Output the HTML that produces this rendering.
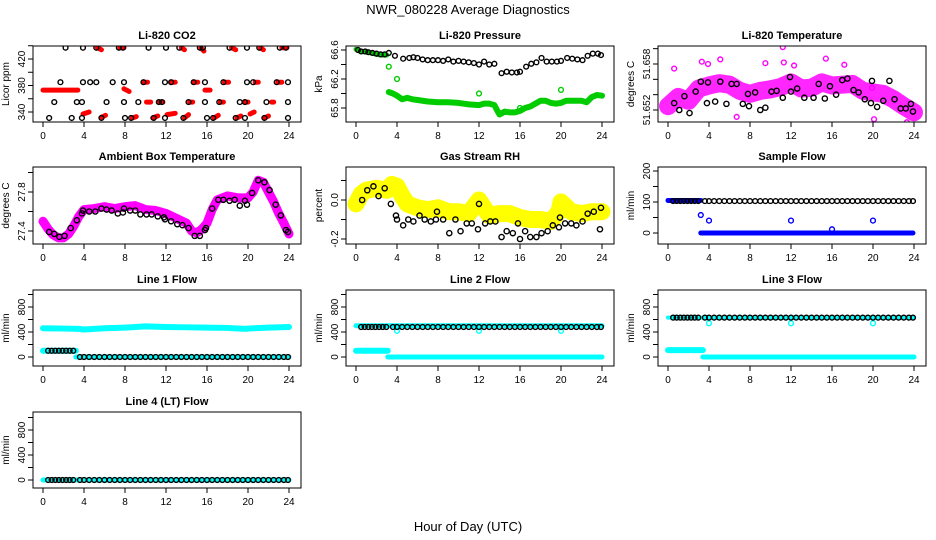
<!DOCTYPE html>
<html><head><meta charset="utf-8"><style>
body{margin:0;background:#fff}
svg{display:block;font-family:"Liberation Sans",Arial,sans-serif}
</style></head><body>
<svg id="c" width="936" height="540" viewBox="0 0 936 540">
<text x="468" y="14" text-anchor="middle" font-size="13">NWR_080228  Average Diagnostics</text>
<text x="468" y="531" text-anchor="middle" font-size="13">Hour of Day (UTC)</text>
</svg>
<script>
// ---------- data ----------
const xTicks=[0,4,8,12,16,20,24];
// CO2
const co2BlackH=[2.2,3.9,5.2,7.4,7.8,10.3,12,13.3,15.3,15.6,18.2,19.9,21.1,23.1,23.7, 1.7,3.9,4.6,5.2,6.8,7.9,9.8,11.9,12.5,14.7,15.8,17.6,19.9,20.5,22.8,23.9, 1.1,3.3,3.8,6.2,7.9,9.3,11.3,11.6,14.2,15.8,17.2,19.2,19.7,21.8,23.9, 0.6,2.8,3.8,5.7,8,8.6,10.8,11.9,13.7,16,16.6,18.8,19.7,21.6,23.9];
const co2BlackV=[437,437,437,437,437,437,437,437,437,437,437,437,437,437,437, 385,385,385,385,385,385,385,385,385,385,385,385,385,385,385,385, 355,355,355,355,355,355,355,355,355,355,355,355,355,355,355, 331,331,331,331,331,331,331,331,331,331,331,331,331,331,331];
const co2RedStart=[0,3.9,5.3,5.7,7.5,7.9,8.7,9.8,10.1,10.7,11.3,12.1,12.5,13.5,13.8,14.3,14.7,15.4,15.8,16.7,17.3,17.7,18.4,18.9,19.7,20.2,20.7,21.2,21.6,22.3,22.9,23.3];
const co2RedEnd=[3.4,4.5,5.7,6.1,7.9,8.4,9.1,10.2,10.5,11.2,11.7,12.9,12.9,13.8,14.2,14.6,15.1,15.7,16.3,17.1,17.6,18.1,18.8,19.3,20,20.6,21.0,21.5,22.0,22.5,23.3,23.8];
const co2RedV1=[373,337,437,332,437,375,331,385,355,331,355,336,385,437,331,355,385,437,373,331,355,385,437,331,355,337,385,437,331,355,385,437];
const co2RedV2=[373,340,434,335,437,371,333,385,355,334,355,338,385,434,336,355,385,432,373,335,355,385,434,334,355,340,385,434,334,355,385,437];
// Pressure
const presBlackH=[0.2,0.5,0.9,1.2,1.6,2,2.4,2.8,3.2,3.8,4.6,5.2,5.6,6,6.5,7,7.5,8,8.5,9,9.5,10,10.5,11,11.5,12,12.5,13,13.5,14.2,14.7,15.2,15.7,16,16.6,17.1,17.6,18.1,18.6,19.1,19.6,20,20.6,21.1,21.6,22.1,22.6,23.1,23.6,23.9];
const presBlackV=[66.6,66.58,66.58,66.57,66.56,66.55,66.54,66.54,66.56,66.52,66.48,66.49,66.5,66.49,66.47,66.46,66.46,66.46,66.45,66.47,66.44,66.45,66.44,66.43,66.42,66.4,66.44,66.4,66.41,66.28,66.3,66.29,66.29,66.3,66.37,66.41,66.43,66.49,66.44,66.44,66.44,66.45,66.49,66.48,66.47,66.46,66.52,66.55,66.55,66.53];
const presGreenH=[0,0.5,1,1.5,2,2.5,3,3.2,3.6,4,4.5,5,5.5,6,7,8,9,10,11,12,12.5,13,13.5,13.8,14,14.5,15,15.5,16,16.5,17,17.5,18,18.5,19,19.5,20,20.5,21,21.5,22,22.5,23,23.5,24];
const presGreenV=[66.61,66.58,66.57,66.56,66.54,66.53,66.53,66.02,66.0,65.97,65.92,65.94,65.92,65.91,65.89,65.88,65.88,65.87,65.85,65.84,65.86,65.86,65.84,65.76,65.71,65.75,65.74,65.74,65.76,65.8,65.82,65.86,65.9,65.9,65.87,65.86,65.87,65.9,65.9,65.9,65.9,65.88,65.95,65.98,65.97];
const presOutH=[3.2,4,12,16,20];
const presOutV=[66.37,66.2,66.0,65.8,66.05];
// Li-820 temperature
const tempCloudH=[0,1,2,3,4,5,6,7,8,9,10,11,12,13,14,15,16,17,18,19,20,21,22,23,24];
const tempCloudMid=[51.6525,51.6537,51.6532,51.6548,51.6552,51.6555,51.6553,51.6545,51.6541,51.6545,51.6547,51.655,51.6556,51.6548,51.6549,51.6556,51.6552,51.6553,51.6554,51.6545,51.6543,51.6541,51.6534,51.6525,51.6517];
const tempOutH=[0.6,3.3,3.9,5.1,9.5,11.2,11.3,12.3,15.4,17.2,19.9,2.1,6.7,23.3,20.1];
const tempOutV=[51.6574,51.6583,51.658,51.6586,51.6581,51.6602,51.6582,51.6578,51.6587,51.6579,51.6549,51.6501,51.6511,51.6504,51.6508];
const tempBlackH=[0.6,1.1,1.6,2.1,2.7,3.2,3.8,3.9,4.6,5.1,5.7,6.2,6.7,7.3,7.8,7.9,8.5,9.0,9.5,10.1,10.6,11.2,11.9,12.0,12.6,13.3,14.2,14.7,15.3,15.8,16.4,17.0,17.5,18.1,18.6,19.2,19.8,19.9,20.4,21.0,21.6,22.1,22.7,23.2,23.7,23.9];
const tempBlackV=[51.6529,51.652,51.6538,51.6516,51.6544,51.6557,51.6529,51.6556,51.6531,51.6557,51.6528,51.6554,51.6554,51.6528,51.6541,51.6525,51.6543,51.652,51.6523,51.6544,51.6545,51.6536,51.6563,51.6544,51.6548,51.6536,51.6536,51.6554,51.6535,51.6551,51.654,51.6559,51.6561,51.6546,51.6543,51.6534,51.6529,51.6558,51.6524,51.6532,51.6558,51.6534,51.6522,51.6522,51.6528,51.6518];
// Ambient box temperature
const ambH=[0,0.5,1,1.5,2,2.5,3,3.5,4,5,6,7,8,9,10,11,12,13,14,14.5,15,15.5,16,16.5,17,18,19,20,20.5,21,21.5,22,22.5,23,23.5,24];
const ambV=[27.5,27.42,27.36,27.33,27.33,27.37,27.45,27.55,27.62,27.63,27.65,27.63,27.65,27.66,27.62,27.61,27.58,27.53,27.48,27.4,27.38,27.42,27.48,27.62,27.72,27.76,27.74,27.74,27.8,27.92,27.9,27.8,27.7,27.58,27.48,27.37];
const ambBlackH=[0.6,1.1,1.6,2.1,2.7,3.3,3.8,3.9,4.5,5.1,5.7,6.2,6.7,7.3,7.8,7.9,8.5,9.0,9.5,10.1,10.6,11.2,11.8,11.9,12.5,13.1,13.6,14.2,14.8,15.3,15.8,15.9,16.5,17.1,17.6,18.2,18.7,19.2,19.7,19.9,20.4,21.0,21.6,22.1,22.7,23.2,23.7,23.9];
const ambBlackV=[27.39,27.37,27.34,27.35,27.43,27.51,27.58,27.61,27.6,27.6,27.63,27.62,27.61,27.58,27.59,27.63,27.61,27.61,27.57,27.57,27.57,27.55,27.54,27.52,27.5,27.47,27.46,27.43,27.35,27.35,27.41,27.43,27.63,27.72,27.72,27.71,27.72,27.66,27.71,27.67,27.79,27.92,27.9,27.82,27.67,27.56,27.41,27.39];
// Gas stream RH
const rhH=[0,0.5,1,2,3,3.5,4,4.5,5,6,7,8,9,10,11,12,13,14,15,16,17,18,19,19.8,20,21,22,23,24];
const rhMid=[-0.02,0.03,0.05,0.06,0.05,0.08,0.07,0.02,-0.02,-0.04,-0.05,-0.04,-0.06,-0.06,-0.07,0.0,-0.08,-0.07,-0.07,-0.09,-0.1,-0.1,-0.11,-0.06,-0.01,-0.06,-0.07,-0.06,-0.06];
const rhBlackH=[0.6,1.1,1.7,2.2,2.8,3.4,3.9,4.0,4.6,5.1,5.6,6.2,6.7,7.3,7.8,7.9,8.5,9.1,9.7,10.2,10.8,11.3,11.9,12.0,12.6,13.1,13.6,14.2,14.7,15.3,15.8,16.0,16.5,17.0,17.6,18.1,18.7,19.2,19.8,19.9,20.4,21.0,21.5,22.1,22.6,23.2,23.8,23.9];
const rhBlackV=[0.0,0.05,0.07,0.02,0.06,-0.02,-0.08,-0.1,-0.13,-0.1,-0.11,-0.08,-0.1,-0.11,-0.1,-0.06,-0.1,-0.17,-0.1,-0.16,-0.12,-0.12,-0.15,-0.02,-0.12,-0.11,-0.11,-0.19,-0.16,-0.17,-0.12,-0.2,-0.16,-0.19,-0.19,-0.17,-0.16,-0.13,-0.14,-0.09,-0.12,-0.12,-0.13,-0.11,-0.07,-0.06,-0.15,-0.04];
// Sample flow
const sfBlackV=103;
const sfBlueHiEnd=3.2, sfBlueHi=105, sfBlueLo=0;
const sfOutH=[3.2,4,12,16,20];
const sfOutV=[58,40,40,12,40];
// Line flows
const l1CyanH=[0,2,3.5,4,6,8,10,12,14,16,18,19.8,20,22,24];
const l1CyanV=[460,455,450,440,460,470,490,480,475,470,465,450,455,470,480];
const l1LowV=100, l1LowEnd=3.2;
const l2CyanV=500, l2LowV=100, l2LowEnd=3.1;
const l3CyanV=630, l3LowV=110, l3LowEnd=3.4;
const lineOutH=[4,12,20];
const l2OutV=[420,420,420];
const l3OutV=[540,540,540];
const circH=[0.5,0.85,1.2,1.55,1.9,2.25,2.6,2.95,3.6,4.0,4.5,5.0,5.5,6.0,6.5,7.0,7.5,8.0,8.5,9.0,9.5,10.0,10.5,11.0,11.5,12.0,12.5,13.0,13.5,14.0,14.5,15.0,15.5,16.0,16.5,17.0,17.5,18.0,18.5,19.0,19.5,20.0,20.5,21.0,21.5,22.0,22.5,23.0,23.5,23.9];
const l1BlackV=[100,100,100,100,100,100,100,100,0,0,0,0,0,0,0,0,0,0,0,0,0,0,0,0,0,0,0,0,0,0,0,0,0,0,0,0,0,0,0,0,0,0,0,0,0,0,0,0,0,0];
const l2BlackV=[480,480,480,480,480,480,480,480,480,480,480,480,480,480,480,480,480,480,480,480,480,480,480,480,480,480,480,480,480,480,480,480,480,480,480,480,480,480,480,480,480,480,480,480,480,480,480,480,480,480];
const l3BlackV=[630,630,630,630,630,630,630,630,630,630,630,630,630,630,630,630,630,630,630,630,630,630,630,630,630,630,630,630,630,630,630,630,630,630,630,630,630,630,630,630,630,630,630,630,630,630,630,630,630,630];
const l4BlackV=[0,0,0,0,0,0,0,0,0,0,0,0,0,0,0,0,0,0,0,0,0,0,0,0,0,0,0,0,0,0,0,0,0,0,0,0,0,0,0,0,0,0,0,0,0,0,0,0,0,0];

// ---------- drawing ----------
const svg=document.getElementById('c');
const NS='http://www.w3.org/2000/svg';
function mk(tag,attrs,parent){const e=document.createElementNS(NS,tag);for(const k in attrs)e.setAttribute(k,attrs[k]);(parent||svg).appendChild(e);return e;}
const colX0=[43,356,668], rowTop=[46,167,290,412], rowBot=[122,244,366,488];
function panel(col,row,title,ylab,ya,yb,va,vb,ticks,labels,fmt,name){
  const x0=colX0[col], sx=246/24;
  const X=h=>x0+h*sx;
  const Y=v=>ya+(v-va)*(yb-ya)/(vb-va);
  const g=mk('g',{});
  
  
  const L=x0-10,R=x0+258,T=rowTop[row],B=rowBot[row];
  const t=mk('text',{x:(L+R)/2,y:T-7,'text-anchor':'middle','font-size':11,'font-weight':'bold'},g);t.textContent=title;
  
  
  const yl=mk('text',{x:0,y:0,'text-anchor':'middle','font-size':10,transform:`translate(${L-24},${(T+B)/2}) rotate(-90)`},g);yl.textContent=ylab;
  
  
  const ax=mk('g',{stroke:'#000','stroke-width':1},g);
  
  
  xTicks.forEach(h=>{mk('line',{x1:X(h),x2:X(h),y1:B,y2:B+5},ax);
    const tx=mk('text',{x:X(h),y:B+17,'text-anchor':'middle','font-size':10,stroke:'none'},g);tx.textContent=h;});
  ticks.forEach(v=>{mk('line',{x1:L-5,x2:L,y1:Y(v),y2:Y(v)},ax);});
  labels.forEach((v,i)=>{const ty=mk('text',{x:0,y:0,'text-anchor':'middle','font-size':10,transform:`translate(${L-8},${Y(v)}) rotate(-90)`},g);ty.textContent=fmt[i];});
  const plot=mk('g',{},g);
  
  
  const clip='clip'+col+row;
  const cp=mk('clipPath',{id:clip},g);mk('rect',{x:L,y:T,width:R-L,height:B-T},cp);
  plot.setAttribute('clip-path',`url(#${clip})`);
  setTimeout(()=>mk('rect',{x:L,y:T,width:R-L,height:B-T,fill:'none',stroke:'#000','stroke-width':1},g),0);
  return {X,Y,g:plot};
}
function pts(p,H,V,color,name,r){const g=mk('g',{fill:'none',stroke:color,'stroke-width':1.4},p.g);
  
  
  H.forEach((h,i)=>mk('circle',{cx:p.X(h),cy:p.Y(V[i]),r:r||2.4},g));return g;}
function band(p,H,V,color,w,name){const d=H.map((h,i)=>(i?'L':'M')+p.X(h)+' '+p.Y(V[i])).join(' ');
  const e=mk('path',{d:d,fill:'none',stroke:color,'stroke-width':w,'stroke-linecap':'round','stroke-linejoin':'round'},p.g);
  
  return e;}

// Panel 1: CO2
let p=panel(0,0,'Li-820 CO2','Licor ppm',112,59,340,420,[340,360,380,400,420,440],[340,380,420],['340','380','420'],'co2');
co2RedStart.forEach((s,i)=>band(p,[s,co2RedEnd[i]],[co2RedV1[i],co2RedV2[i]],'#f00',5,'co2-red-run'));
pts(p,co2BlackH,co2BlackV,'#000','co2-black-points');
// Panel 2: Pressure
p=panel(1,0,'Li-820 Pressure','kPa',108,50,65.8,66.6,[65.8,66.0,66.2,66.4,66.6],[65.8,66.2,66.6],['65.8','66.2','66.6'],'pressure');
band(p,presGreenH.slice(0,7),presGreenV.slice(0,7),'#0c0',5,'pressure-green-early');
band(p,presGreenH.slice(7),presGreenV.slice(7),'#0c0',6,'pressure-green-band');
pts(p,presOutH,presOutV,'#0c0','pressure-green-outliers');
pts(p,presBlackH,presBlackV,'#000','pressure-black-points');
// Panel 3: Temperature
p=panel(2,0,'Li-820 Temperature','degrees C',110,64,51.652,51.658,[51.652,51.654,51.656,51.658,51.660],[51.652,51.658],['51.652','51.658'],'temperature');
band(p,tempCloudH,tempCloudMid,'#f0f',18,'temperature-magenta-cloud').setAttribute('stroke-opacity','0.85');
pts(p,tempOutH,tempOutV,'#f0f','temperature-magenta-outliers');
pts(p,tempBlackH,tempBlackV,'#000','temperature-black-points',2.6);
// Panel 4: Ambient
p=panel(0,1,'Ambient Box Temperature','degrees C',231,192,27.4,27.8,[27.4,27.6,27.8,28.0],[27.4,27.8],['27.4','27.8'],'ambient');
band(p,ambH,ambV,'#f0f',9,'ambient-magenta-band');
pts(p,ambBlackH,ambBlackV,'#000','ambient-black-points',2.6);
// Panel 5: RH
p=panel(1,1,'Gas Stream RH','percent',200,239,0,-0.2,[-0.2,-0.1,0,0.1],[-0.2,0],['-0.2','0.0'],'rh');
band(p,rhH,rhMid,'#ff0',17,'rh-yellow-cloud');
pts(p,rhBlackH,rhBlackV,'#000','rh-black-points',2.6);
// Panel 6: Sample flow
p=panel(2,1,'Sample Flow','ml/min',233,171,0,200,[0,50,100,150,200],[0,100,200],['0','100','200'],'sample-flow');
band(p,[0,sfBlueHiEnd],[sfBlueHi,sfBlueHi],'#00f',5,'sample-flow-blue-high');
band(p,[sfBlueHiEnd,23.9],[sfBlueLo,sfBlueLo],'#00f',5,'sample-flow-blue-low');
pts(p,sfOutH,sfOutV,'#00f','sample-flow-blue-outliers');
pts(p,circH,circH.map(()=>sfBlackV),'#000','sample-flow-black-points');
// Line 1
p=panel(0,2,'Line 1 Flow','ml/min',357,307,0,800,[0,200,400,600,800,1000],[0,400,800],['0','400','800'],'line1-flow');
band(p,l1CyanH,l1CyanV,'#0ff',6,'line1-cyan-band');
band(p,[0,l1LowEnd],[l1LowV,l1LowV],'#0ff',6,'line1-cyan-low');
band(p,[l1LowEnd,24],[0,0],'#0ff',5,'line1-cyan-zero');
pts(p,circH,l1BlackV,'#000','line1-black-points');
// Line 2
p=panel(1,2,'Line 2 Flow','ml/min',357,307,0,800,[0,200,400,600,800,1000],[0,400,800],['0','400','800'],'line2-flow');
band(p,[0,24],[l2CyanV,l2CyanV],'#0ff',5,'line2-cyan-band');
band(p,[0,l2LowEnd],[l2LowV,l2LowV],'#0ff',6,'line2-cyan-low');
band(p,[l2LowEnd,24],[0,0],'#0ff',5,'line2-cyan-zero');
pts(p,lineOutH,l2OutV,'#0ff','line2-cyan-outliers');
pts(p,circH,l2BlackV,'#000','line2-black-points');
// Line 3
p=panel(2,2,'Line 3 Flow','ml/min',357,307,0,800,[0,200,400,600,800,1000],[0,400,800],['0','400','800'],'line3-flow');
band(p,[0,24],[l3CyanV,l3CyanV],'#0ff',4,'line3-cyan-band');
band(p,[0,l3LowEnd],[l3LowV,l3LowV],'#0ff',6,'line3-cyan-low');
band(p,[l3LowEnd,24],[0,0],'#0ff',5,'line3-cyan-zero');
pts(p,lineOutH,l3OutV,'#0ff','line3-cyan-outliers');
pts(p,circH,l3BlackV,'#000','line3-black-points');
// Line 4
p=panel(0,3,'Line 4 (LT) Flow','ml/min',480,430,0,800,[0,200,400,600,800,1000],[0,400,800],['0','400','800'],'line4-flow');
band(p,[0,24],[0,0],'#0ff',5,'line4-cyan-band');
pts(p,circH,l4BlackV,'#000','line4-black-points');
</script>
</body></html>
